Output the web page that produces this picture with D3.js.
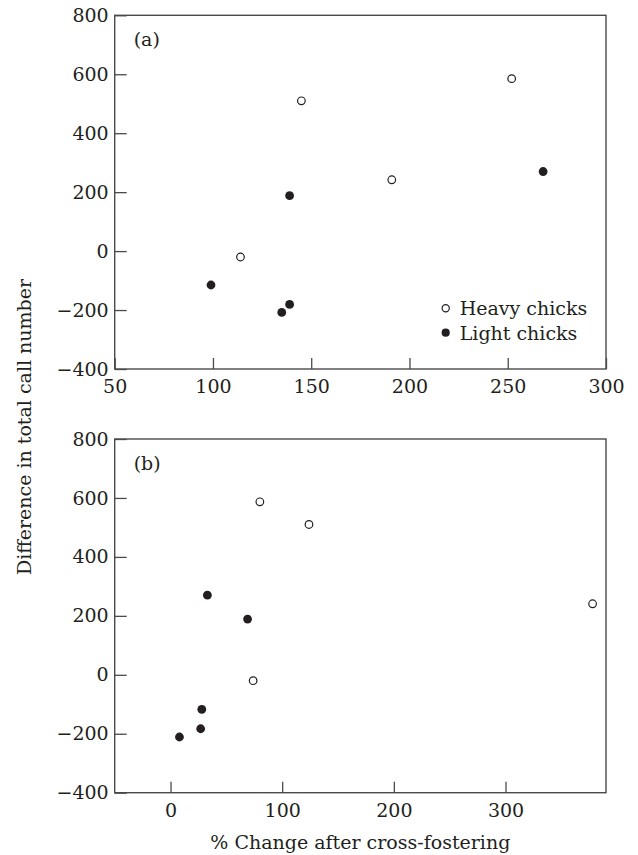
<!DOCTYPE html>
<html>
<head>
<meta charset="utf-8">
<script src="https://cdn.jsdelivr.net/npm/d3@7"></script>
<style>
  html, body { margin: 0; padding: 0; background: #fff; }
  svg { display: block; }
  text { font-family: "DejaVu Serif", "Liberation Serif", serif; fill: #231f20; }
</style>
</head>
<body>
<script>
// ---- Data ----
// Panel (a): x = ? (50–300 scale), y = difference in total call number
const heavyA_x = [145, 114, 252, 191];
const heavyA_y = [510, -20, 585, 242];
const lightA_x = [99, 139, 139, 135, 268];
const lightA_y = [-115, 188, -181, -208, 270];
// Panel (b): x = % change after cross-fostering
const heavyB_x = [124, 74, 80, 378];
const heavyB_y = [510, -20, 587, 241];
const lightB_x = [8, 27, 28, 69, 33];
const lightB_y = [-211, -183, -117, 189, 270];

const yTicks = [-400, -200, 0, 200, 400, 600, 800];
const xTicksA = [50, 100, 150, 200, 250, 300];
const xTicksB = [0, 100, 200, 300];
const panelLabels = ["(a)", "(b)"];
const legendLabels = ["Heavy chicks", "Light chicks"];
const yTitle = "Difference in total call number";
const xTitle = "% Change after cross-fostering";

// ---- Layout ----
const W = 638, H = 855;
const svg = d3.select("body").append("svg").attr("width", W).attr("height", H);
const left = 114.7, right = 606;
const ink = "#231f20";
const frameCol = "#4a4a4a";

const panels = [
  { top: 15.3, bottom: 369, xdom: [50, 300], xt: xTicksA,
    heavy: d3.zip(heavyA_x, heavyA_y), light: d3.zip(lightA_x, lightA_y), label: panelLabels[0], legend: true },
  { top: 439, bottom: 792.7, xdom: [-50, 390], xt: xTicksB,
    heavy: d3.zip(heavyB_x, heavyB_y), light: d3.zip(lightB_x, lightB_y), label: panelLabels[1], legend: false }
];

panels.forEach(p => {
  const x = d3.scaleLinear().domain(p.xdom).range([left, right]);
  const y = d3.scaleLinear().domain([-400, 800]).range([p.bottom, p.top]);
  const g = svg.append("g");

  // frame
  g.append("rect").attr("x", left).attr("y", p.top)
    .attr("width", right - left).attr("height", p.bottom - p.top)
    .attr("fill", "none").attr("stroke", frameCol).attr("stroke-width", 1.4);

  // y axis (inward ticks)
  const ya = g.append("g").attr("transform", `translate(${left},0)`)
    .call(d3.axisLeft(y).tickValues(yTicks).tickSize(-12).tickPadding(6));
  ya.select(".domain").remove();
  ya.selectAll(".tick line").attr("stroke", frameCol).attr("stroke-width", 1.3);
  ya.selectAll(".tick text").attr("font-size", 19).attr("fill", ink)
    .attr("font-family", "DejaVu Serif, serif");

  // x axis (inward ticks)
  const xa = g.append("g").attr("transform", `translate(0,${p.bottom})`)
    .call(d3.axisBottom(x).tickValues(p.xt).tickSize(-11).tickPadding(11));
  xa.select(".domain").remove();
  xa.selectAll(".tick line").attr("stroke", frameCol).attr("stroke-width", 1.3);
  xa.selectAll(".tick text").attr("font-size", 19).attr("fill", ink)
    .attr("font-family", "DejaVu Serif, serif");

  // panel label
  g.append("text").attr("x", left + 19).attr("y", p.top + 31)
    .attr("font-size", 19).text(p.label);

  // points
  g.selectAll(".heavy").data(p.heavy).join("circle")
    .attr("cx", d => x(d[0])).attr("cy", d => y(d[1])).attr("r", 3.8)
    .attr("fill", "#fff").attr("stroke", ink).attr("stroke-width", 1.2);
  g.selectAll(".light").data(p.light).join("circle")
    .attr("cx", d => x(d[0])).attr("cy", d => y(d[1])).attr("r", 4.4)
    .attr("fill", ink);

  if (p.legend) {
    const lx = 445.7, ly = 308.3, gap = 24.4;
    const lg = g.append("g");
    lg.append("circle").attr("cx", lx).attr("cy", ly).attr("r", 3.6)
      .attr("fill", "#fff").attr("stroke", ink).attr("stroke-width", 1.2);
    lg.append("circle").attr("cx", lx).attr("cy", ly + gap).attr("r", 4.1)
      .attr("fill", ink);
    lg.append("text").attr("x", lx + 14).attr("y", ly + 7).attr("font-size", 19).text(legendLabels[0]);
    lg.append("text").attr("x", lx + 14).attr("y", ly + gap + 7).attr("font-size", 19).text(legendLabels[1]);
  }
});

// axis titles
svg.append("text").attr("transform", "translate(31,427) rotate(-90)")
  .attr("text-anchor", "middle").attr("font-size", 19).text(yTitle);
svg.append("text").attr("x", (left + right) / 2).attr("y", 849)
  .attr("text-anchor", "middle").attr("font-size", 19).text(xTitle);
</script>
</body>
</html>
